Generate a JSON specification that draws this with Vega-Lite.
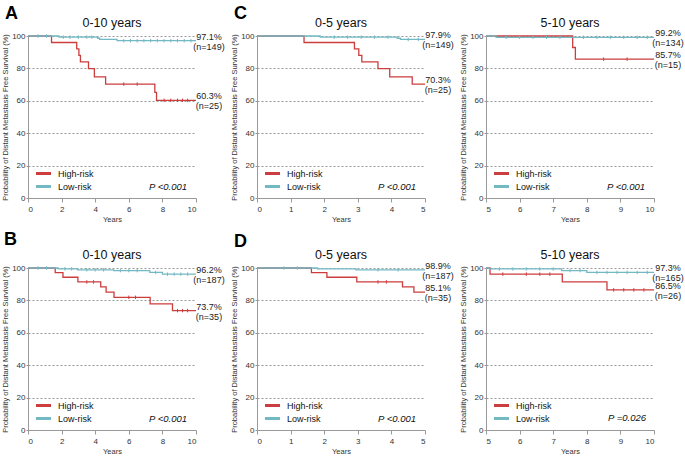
{
  "$schema": "https://vega.github.io/schema/vega-lite/v6.json",
  "padding": {"left": 1, "top": 5, "right": 0, "bottom": 0},
  "background": "white",
  "config": {
    "font": "Liberation Sans",
    "view": {"stroke": null},
    "axis": {"labelFontSize": 8, "titleFontSize": 7.5, "titleFontWeight": "normal", "labelColor": "#333", "titleColor": "#333", "domainColor": "#999", "tickColor": "#999", "gridDash": [2, 2], "gridColor": "#999", "tickCount": 12, "labelOverlap": false},
    "axisX": {"grid": false, "tickSize": 4, "labelPadding": 3, "titlePadding": 2, "format": "d"},
    "axisY": {"grid": true, "tickSize": 2, "labelPadding": 1, "titlePadding": 2},
    "legend": {"orient": "bottom-left", "offset": 5, "title": null, "symbolType": "M-1.5,0L1.5,0", "symbolStrokeWidth": 3, "symbolSize": 100, "symbolOffset": 4, "labelFontSize": 9, "labelColor": "#111", "rowPadding": -1, "labelOffset": 8}
  },
  "resolve": {"scale": {"color": "independent"}, "legend": {"color": "independent"}},
  "datasets": {
    "curves": [
      {"panel": "A", "group": "High-risk", "t": 0, "s": 100},
      {"panel": "A", "group": "High-risk", "t": 1.4, "s": 96},
      {"panel": "A", "group": "High-risk", "t": 2.9, "s": 92},
      {"panel": "A", "group": "High-risk", "t": 3.03, "s": 88},
      {"panel": "A", "group": "High-risk", "t": 3.12, "s": 84},
      {"panel": "A", "group": "High-risk", "t": 3.6, "s": 79.8},
      {"panel": "A", "group": "High-risk", "t": 3.95, "s": 74.8},
      {"panel": "A", "group": "High-risk", "t": 4.62, "s": 70.3},
      {"panel": "A", "group": "High-risk", "t": 7.55, "s": 65.2},
      {"panel": "A", "group": "High-risk", "t": 7.65, "s": 60.3},
      {"panel": "A", "group": "High-risk", "t": 10, "s": 60.3},
      {"panel": "A", "group": "Low-risk", "t": 0, "s": 100},
      {"panel": "A", "group": "Low-risk", "t": 1.85, "s": 99.3},
      {"panel": "A", "group": "Low-risk", "t": 4.15, "s": 98.6},
      {"panel": "A", "group": "Low-risk", "t": 4.27, "s": 97.9},
      {"panel": "A", "group": "Low-risk", "t": 5.3, "s": 97.1},
      {"panel": "A", "group": "Low-risk", "t": 10, "s": 97.1},
      {"panel": "C1", "group": "High-risk", "t": 0, "s": 100},
      {"panel": "C1", "group": "High-risk", "t": 1.4, "s": 96},
      {"panel": "C1", "group": "High-risk", "t": 2.9, "s": 92},
      {"panel": "C1", "group": "High-risk", "t": 3.03, "s": 88},
      {"panel": "C1", "group": "High-risk", "t": 3.12, "s": 84},
      {"panel": "C1", "group": "High-risk", "t": 3.6, "s": 79.8},
      {"panel": "C1", "group": "High-risk", "t": 3.95, "s": 74.8},
      {"panel": "C1", "group": "High-risk", "t": 4.62, "s": 70.3},
      {"panel": "C1", "group": "High-risk", "t": 5, "s": 70.3},
      {"panel": "C1", "group": "Low-risk", "t": 0, "s": 100},
      {"panel": "C1", "group": "Low-risk", "t": 1.88, "s": 99.3},
      {"panel": "C1", "group": "Low-risk", "t": 4.17, "s": 98.6},
      {"panel": "C1", "group": "Low-risk", "t": 4.27, "s": 97.9},
      {"panel": "C1", "group": "Low-risk", "t": 5, "s": 97.9},
      {"panel": "C2", "group": "High-risk", "t": 5, "s": 100},
      {"panel": "C2", "group": "High-risk", "t": 7.58, "s": 92.9},
      {"panel": "C2", "group": "High-risk", "t": 7.66, "s": 85.7},
      {"panel": "C2", "group": "High-risk", "t": 10, "s": 85.7},
      {"panel": "C2", "group": "Low-risk", "t": 5, "s": 100},
      {"panel": "C2", "group": "Low-risk", "t": 5.3, "s": 99.2},
      {"panel": "C2", "group": "Low-risk", "t": 10, "s": 99.2},
      {"panel": "B", "group": "High-risk", "t": 0, "s": 100},
      {"panel": "B", "group": "High-risk", "t": 1.62, "s": 97.1},
      {"panel": "B", "group": "High-risk", "t": 2.08, "s": 94.3},
      {"panel": "B", "group": "High-risk", "t": 2.97, "s": 91.4},
      {"panel": "B", "group": "High-risk", "t": 4.33, "s": 88.3},
      {"panel": "B", "group": "High-risk", "t": 4.65, "s": 85.1},
      {"panel": "B", "group": "High-risk", "t": 5.12, "s": 81.9},
      {"panel": "B", "group": "High-risk", "t": 7.27, "s": 77.8},
      {"panel": "B", "group": "High-risk", "t": 8.6, "s": 73.7},
      {"panel": "B", "group": "High-risk", "t": 10, "s": 73.7},
      {"panel": "B", "group": "Low-risk", "t": 0, "s": 100},
      {"panel": "B", "group": "Low-risk", "t": 1.8, "s": 99.5},
      {"panel": "B", "group": "Low-risk", "t": 2.95, "s": 98.9},
      {"panel": "B", "group": "Low-risk", "t": 5.1, "s": 98.4},
      {"panel": "B", "group": "Low-risk", "t": 7.25, "s": 97.3},
      {"panel": "B", "group": "Low-risk", "t": 8.0, "s": 96.2},
      {"panel": "B", "group": "Low-risk", "t": 10, "s": 96.2},
      {"panel": "D1", "group": "High-risk", "t": 0, "s": 100},
      {"panel": "D1", "group": "High-risk", "t": 1.62, "s": 97.1},
      {"panel": "D1", "group": "High-risk", "t": 2.08, "s": 94.3},
      {"panel": "D1", "group": "High-risk", "t": 2.97, "s": 91.4},
      {"panel": "D1", "group": "High-risk", "t": 4.33, "s": 88.3},
      {"panel": "D1", "group": "High-risk", "t": 4.67, "s": 85.1},
      {"panel": "D1", "group": "High-risk", "t": 5, "s": 85.1},
      {"panel": "D1", "group": "Low-risk", "t": 0, "s": 100},
      {"panel": "D1", "group": "Low-risk", "t": 1.8, "s": 99.5},
      {"panel": "D1", "group": "Low-risk", "t": 2.95, "s": 98.9},
      {"panel": "D1", "group": "Low-risk", "t": 5, "s": 98.9},
      {"panel": "D2", "group": "High-risk", "t": 5, "s": 100},
      {"panel": "D2", "group": "High-risk", "t": 5.12, "s": 96.2},
      {"panel": "D2", "group": "High-risk", "t": 7.27, "s": 91.4},
      {"panel": "D2", "group": "High-risk", "t": 8.6, "s": 86.5},
      {"panel": "D2", "group": "High-risk", "t": 10, "s": 86.5},
      {"panel": "D2", "group": "Low-risk", "t": 5, "s": 100},
      {"panel": "D2", "group": "Low-risk", "t": 5.1, "s": 99.4},
      {"panel": "D2", "group": "Low-risk", "t": 7.25, "s": 98.4},
      {"panel": "D2", "group": "Low-risk", "t": 8.0, "s": 97.3},
      {"panel": "D2", "group": "Low-risk", "t": 10, "s": 97.3}
    ],
    "censor": [
      {"panel": "A", "group": "High-risk", "t": 5.7, "s": 70.3},
      {"panel": "A", "group": "High-risk", "t": 6.5, "s": 70.3},
      {"panel": "A", "group": "High-risk", "t": 8.1, "s": 60.3},
      {"panel": "A", "group": "High-risk", "t": 8.5, "s": 60.3},
      {"panel": "A", "group": "High-risk", "t": 8.9, "s": 60.3},
      {"panel": "A", "group": "High-risk", "t": 9.2, "s": 60.3},
      {"panel": "A", "group": "High-risk", "t": 9.5, "s": 60.3},
      {"panel": "A", "group": "Low-risk", "t": 0.6, "s": 100},
      {"panel": "A", "group": "Low-risk", "t": 1.1, "s": 100},
      {"panel": "A", "group": "Low-risk", "t": 2.1, "s": 99.3},
      {"panel": "A", "group": "Low-risk", "t": 2.5, "s": 99.3},
      {"panel": "A", "group": "Low-risk", "t": 3.0, "s": 99.3},
      {"panel": "A", "group": "Low-risk", "t": 3.5, "s": 99.3},
      {"panel": "A", "group": "Low-risk", "t": 3.8, "s": 99.3},
      {"panel": "A", "group": "Low-risk", "t": 5.7, "s": 97.1},
      {"panel": "A", "group": "Low-risk", "t": 6.1, "s": 97.1},
      {"panel": "A", "group": "Low-risk", "t": 6.5, "s": 97.1},
      {"panel": "A", "group": "Low-risk", "t": 6.9, "s": 97.1},
      {"panel": "A", "group": "Low-risk", "t": 7.3, "s": 97.1},
      {"panel": "A", "group": "Low-risk", "t": 7.7, "s": 97.1},
      {"panel": "A", "group": "Low-risk", "t": 8.1, "s": 97.1},
      {"panel": "A", "group": "Low-risk", "t": 8.5, "s": 97.1},
      {"panel": "A", "group": "Low-risk", "t": 8.9, "s": 97.1},
      {"panel": "A", "group": "Low-risk", "t": 9.3, "s": 97.1},
      {"panel": "A", "group": "Low-risk", "t": 9.7, "s": 97.1},
      {"panel": "C1", "group": "Low-risk", "t": 2.3, "s": 99.3},
      {"panel": "C1", "group": "Low-risk", "t": 2.7, "s": 99.3},
      {"panel": "C1", "group": "Low-risk", "t": 3.1, "s": 99.3},
      {"panel": "C1", "group": "Low-risk", "t": 3.5, "s": 99.3},
      {"panel": "C1", "group": "Low-risk", "t": 3.9, "s": 99.3},
      {"panel": "C1", "group": "Low-risk", "t": 4.5, "s": 97.9},
      {"panel": "C1", "group": "Low-risk", "t": 4.8, "s": 97.9},
      {"panel": "C2", "group": "High-risk", "t": 8.5, "s": 85.7},
      {"panel": "C2", "group": "High-risk", "t": 9.2, "s": 85.7},
      {"panel": "C2", "group": "Low-risk", "t": 5.6, "s": 99.2},
      {"panel": "C2", "group": "Low-risk", "t": 6.0, "s": 99.2},
      {"panel": "C2", "group": "Low-risk", "t": 6.4, "s": 99.2},
      {"panel": "C2", "group": "Low-risk", "t": 6.8, "s": 99.2},
      {"panel": "C2", "group": "Low-risk", "t": 7.2, "s": 99.2},
      {"panel": "C2", "group": "Low-risk", "t": 7.9, "s": 99.2},
      {"panel": "C2", "group": "Low-risk", "t": 8.3, "s": 99.2},
      {"panel": "C2", "group": "Low-risk", "t": 8.7, "s": 99.2},
      {"panel": "C2", "group": "Low-risk", "t": 9.1, "s": 99.2},
      {"panel": "C2", "group": "Low-risk", "t": 9.5, "s": 99.2},
      {"panel": "C2", "group": "Low-risk", "t": 9.8, "s": 99.2},
      {"panel": "B", "group": "High-risk", "t": 3.5, "s": 91.4},
      {"panel": "B", "group": "High-risk", "t": 3.9, "s": 91.4},
      {"panel": "B", "group": "High-risk", "t": 6.0, "s": 81.9},
      {"panel": "B", "group": "High-risk", "t": 6.4, "s": 81.9},
      {"panel": "B", "group": "High-risk", "t": 8.9, "s": 73.7},
      {"panel": "B", "group": "High-risk", "t": 9.2, "s": 73.7},
      {"panel": "B", "group": "High-risk", "t": 9.5, "s": 73.7},
      {"panel": "B", "group": "Low-risk", "t": 0.6, "s": 100},
      {"panel": "B", "group": "Low-risk", "t": 1.1, "s": 100},
      {"panel": "B", "group": "Low-risk", "t": 2.2, "s": 99.5},
      {"panel": "B", "group": "Low-risk", "t": 2.6, "s": 99.5},
      {"panel": "B", "group": "Low-risk", "t": 3.5, "s": 98.9},
      {"panel": "B", "group": "Low-risk", "t": 4.0, "s": 98.9},
      {"panel": "B", "group": "Low-risk", "t": 4.5, "s": 98.9},
      {"panel": "B", "group": "Low-risk", "t": 5.5, "s": 98.4},
      {"panel": "B", "group": "Low-risk", "t": 6.0, "s": 98.4},
      {"panel": "B", "group": "Low-risk", "t": 6.5, "s": 98.4},
      {"panel": "B", "group": "Low-risk", "t": 7.6, "s": 97.3},
      {"panel": "B", "group": "Low-risk", "t": 8.3, "s": 96.2},
      {"panel": "B", "group": "Low-risk", "t": 8.7, "s": 96.2},
      {"panel": "B", "group": "Low-risk", "t": 9.1, "s": 96.2},
      {"panel": "B", "group": "Low-risk", "t": 9.5, "s": 96.2},
      {"panel": "D1", "group": "High-risk", "t": 3.6, "s": 91.4},
      {"panel": "D1", "group": "High-risk", "t": 3.85, "s": 91.4},
      {"panel": "D1", "group": "Low-risk", "t": 0.8, "s": 100},
      {"panel": "D1", "group": "Low-risk", "t": 1.2, "s": 100},
      {"panel": "D1", "group": "Low-risk", "t": 3.6, "s": 98.9},
      {"panel": "D1", "group": "Low-risk", "t": 4.2, "s": 98.9},
      {"panel": "D2", "group": "High-risk", "t": 5.5, "s": 96.2},
      {"panel": "D2", "group": "High-risk", "t": 6.2, "s": 96.2},
      {"panel": "D2", "group": "High-risk", "t": 6.6, "s": 96.2},
      {"panel": "D2", "group": "High-risk", "t": 6.9, "s": 96.2},
      {"panel": "D2", "group": "High-risk", "t": 8.8, "s": 86.5},
      {"panel": "D2", "group": "High-risk", "t": 9.1, "s": 86.5},
      {"panel": "D2", "group": "High-risk", "t": 9.4, "s": 86.5},
      {"panel": "D2", "group": "High-risk", "t": 9.7, "s": 86.5},
      {"panel": "D2", "group": "Low-risk", "t": 5.4, "s": 99.4},
      {"panel": "D2", "group": "Low-risk", "t": 5.8, "s": 99.4},
      {"panel": "D2", "group": "Low-risk", "t": 6.2, "s": 99.4},
      {"panel": "D2", "group": "Low-risk", "t": 6.6, "s": 99.4},
      {"panel": "D2", "group": "Low-risk", "t": 7.0, "s": 99.4},
      {"panel": "D2", "group": "Low-risk", "t": 7.5, "s": 98.4},
      {"panel": "D2", "group": "Low-risk", "t": 7.8, "s": 98.4},
      {"panel": "D2", "group": "Low-risk", "t": 8.3, "s": 97.3},
      {"panel": "D2", "group": "Low-risk", "t": 8.6, "s": 97.3},
      {"panel": "D2", "group": "Low-risk", "t": 8.9, "s": 97.3},
      {"panel": "D2", "group": "Low-risk", "t": 9.2, "s": 97.3},
      {"panel": "D2", "group": "Low-risk", "t": 9.5, "s": 97.3},
      {"panel": "D2", "group": "Low-risk", "t": 9.8, "s": 97.3}
    ],
    "ends": [
      {"panel": "A", "t": 10, "s": 97.1, "pct": "97.1%", "n": "(n=149)"},
      {"panel": "A", "t": 10, "s": 60.3, "pct": "60.3%", "n": "(n=25)"},
      {"panel": "C1", "t": 5, "s": 97.9, "pct": "97.9%", "n": "(n=149)"},
      {"panel": "C1", "t": 5, "s": 70.3, "pct": "70.3%", "n": "(n=25)"},
      {"panel": "C2", "t": 10, "s": 99.2, "pct": "99.2%", "n": "(n=134)"},
      {"panel": "C2", "t": 10, "s": 85.7, "pct": "85.7%", "n": "(n=15)"},
      {"panel": "B", "t": 10, "s": 96.2, "pct": "96.2%", "n": "(n=187)"},
      {"panel": "B", "t": 10, "s": 73.7, "pct": "73.7%", "n": "(n=35)"},
      {"panel": "D1", "t": 5, "s": 98.9, "pct": "98.9%", "n": "(n=187)"},
      {"panel": "D1", "t": 5, "s": 85.1, "pct": "85.1%", "n": "(n=35)"},
      {"panel": "D2", "t": 10, "s": 97.3, "pct": "97.3%", "n": "(n=165)"},
      {"panel": "D2", "t": 10, "s": 86.5, "pct": "86.5%", "n": "(n=26)"}
    ],
    "notes": [
      {"panel": "A", "letter": "A", "title": "0-10 years", "p": "P <0.001"},
      {"panel": "C1", "letter": "C", "title": "0-5 years", "p": "P <0.001"},
      {"panel": "C2", "letter": "", "title": "5-10 years", "p": "P <0.001"},
      {"panel": "B", "letter": "B", "title": "0-10 years", "p": "P <0.001"},
      {"panel": "D1", "letter": "D", "title": "0-5 years", "p": "P <0.001"},
      {"panel": "D2", "letter": "", "title": "5-10 years", "p": "P =0.026"}
    ]
  },
  "columns": 3,
  "spacing": {"row": 70, "column": 61},
  "bounds": "flush",
  "concat": [
    {
      "width": 168, "height": 162,
      "layer": [
        {"data": {"name": "curves"}, "transform": [{"filter": "datum.panel === 'A'"}],
         "mark": {"type": "line", "interpolate": "step-after", "strokeWidth": 1.3},
         "encoding": {
           "x": {"field": "t", "type": "quantitative", "scale": {"domain": [0, 10], "nice": false}, "axis": {"values": [0, 2, 4, 6, 8, 10], "title": "Years"}},
           "y": {"field": "s", "type": "quantitative", "scale": {"domain": [0, 100], "nice": false}, "axis": {"values": [0, 20, 40, 60, 80, 100], "title": "Probability of Distant Metastasis Free Survival (%)"}},
           "color": {"field": "group", "type": "nominal", "scale": {"domain": ["High-risk", "Low-risk"], "range": ["#cc3d3d", "#72b9c3"]}, "legend": {"orient": "bottom-left"}}}},
        {"data": {"name": "censor"}, "transform": [{"filter": "datum.panel === 'A'"}],
         "mark": {"type": "point", "shape": "M0,-1L0,1", "size": 12, "strokeWidth": 1, "filled": false, "opacity": 1},
         "encoding": {"x": {"field": "t", "type": "quantitative"}, "y": {"field": "s", "type": "quantitative"}, "color": {"field": "group", "type": "nominal", "legend": null}}},
        {"data": {"name": "ends"}, "transform": [{"filter": "datum.panel === 'A'"}],
         "mark": {"type": "text", "align": "center", "dx": 13, "dy": -4, "fontSize": 9, "color": "#222"},
         "encoding": {"x": {"field": "t", "type": "quantitative"}, "y": {"field": "s", "type": "quantitative"}, "text": {"field": "pct"}}},
        {"data": {"name": "ends"}, "transform": [{"filter": "datum.panel === 'A'"}],
         "mark": {"type": "text", "align": "center", "dx": 13, "dy": 6, "fontSize": 9, "color": "#222"},
         "encoding": {"x": {"field": "t", "type": "quantitative"}, "y": {"field": "s", "type": "quantitative"}, "text": {"field": "n"}}},
        {"data": {"name": "notes"}, "transform": [{"filter": "datum.panel === 'A'"}],
         "mark": {"type": "text", "align": "right", "baseline": "alphabetic", "dx": -9, "dy": -8, "fontSize": 9.5, "fontStyle": "italic", "color": "#111"},
         "encoding": {"x": {"datum": 10}, "y": {"datum": 0}, "text": {"field": "p"}}},
        {"data": {"name": "notes"}, "transform": [{"filter": "datum.panel === 'A'"}],
         "mark": {"type": "text", "align": "center", "baseline": "alphabetic", "dy": -9, "fontSize": 12.5, "color": "#111"},
         "encoding": {"x": {"datum": 5}, "y": {"datum": 100}, "text": {"field": "title"}}},
        {"data": {"name": "notes"}, "transform": [{"filter": "datum.panel === 'A'"}],
         "mark": {"type": "text", "align": "left", "baseline": "alphabetic", "dx": -23, "dy": -17, "fontSize": 18, "fontWeight": "bold", "color": "#000"},
         "encoding": {"x": {"datum": 0}, "y": {"datum": 100}, "text": {"field": "letter"}}}
      ]
    },
    {
      "width": 168, "height": 162,
      "layer": [
        {"data": {"name": "curves"}, "transform": [{"filter": "datum.panel === 'C1'"}],
         "mark": {"type": "line", "interpolate": "step-after", "strokeWidth": 1.3},
         "encoding": {
           "x": {"field": "t", "type": "quantitative", "scale": {"domain": [0, 5], "nice": false}, "axis": {"values": [0, 1, 2, 3, 4, 5], "title": "Years"}},
           "y": {"field": "s", "type": "quantitative", "scale": {"domain": [0, 100], "nice": false}, "axis": {"values": [0, 20, 40, 60, 80, 100], "title": "Probability of Distant Metastasis Free Survival (%)"}},
           "color": {"field": "group", "type": "nominal", "scale": {"domain": ["High-risk", "Low-risk"], "range": ["#cc3d3d", "#72b9c3"]}, "legend": {"orient": "bottom-left"}}}},
        {"data": {"name": "censor"}, "transform": [{"filter": "datum.panel === 'C1'"}],
         "mark": {"type": "point", "shape": "M0,-1L0,1", "size": 12, "strokeWidth": 1, "filled": false, "opacity": 1},
         "encoding": {"x": {"field": "t", "type": "quantitative"}, "y": {"field": "s", "type": "quantitative"}, "color": {"field": "group", "type": "nominal", "legend": null}}},
        {"data": {"name": "ends"}, "transform": [{"filter": "datum.panel === 'C1'"}],
         "mark": {"type": "text", "align": "center", "dx": 13, "dy": -4, "fontSize": 9, "color": "#222"},
         "encoding": {"x": {"field": "t", "type": "quantitative"}, "y": {"field": "s", "type": "quantitative"}, "text": {"field": "pct"}}},
        {"data": {"name": "ends"}, "transform": [{"filter": "datum.panel === 'C1'"}],
         "mark": {"type": "text", "align": "center", "dx": 13, "dy": 6, "fontSize": 9, "color": "#222"},
         "encoding": {"x": {"field": "t", "type": "quantitative"}, "y": {"field": "s", "type": "quantitative"}, "text": {"field": "n"}}},
        {"data": {"name": "notes"}, "transform": [{"filter": "datum.panel === 'C1'"}],
         "mark": {"type": "text", "align": "right", "baseline": "alphabetic", "dx": -9, "dy": -8, "fontSize": 9.5, "fontStyle": "italic", "color": "#111"},
         "encoding": {"x": {"datum": 5}, "y": {"datum": 0}, "text": {"field": "p"}}},
        {"data": {"name": "notes"}, "transform": [{"filter": "datum.panel === 'C1'"}],
         "mark": {"type": "text", "align": "center", "baseline": "alphabetic", "dy": -9, "fontSize": 12.5, "color": "#111"},
         "encoding": {"x": {"datum": 2.5}, "y": {"datum": 100}, "text": {"field": "title"}}},
        {"data": {"name": "notes"}, "transform": [{"filter": "datum.panel === 'C1'"}],
         "mark": {"type": "text", "align": "left", "baseline": "alphabetic", "dx": -23, "dy": -17, "fontSize": 18, "fontWeight": "bold", "color": "#000"},
         "encoding": {"x": {"datum": 0}, "y": {"datum": 100}, "text": {"field": "letter"}}}
      ]
    },
    {
      "width": 168, "height": 162,
      "layer": [
        {"data": {"name": "curves"}, "transform": [{"filter": "datum.panel === 'C2'"}],
         "mark": {"type": "line", "interpolate": "step-after", "strokeWidth": 1.3},
         "encoding": {
           "x": {"field": "t", "type": "quantitative", "scale": {"domain": [5, 10], "nice": false, "zero": false}, "axis": {"values": [5, 6, 7, 8, 9, 10], "title": "Years"}},
           "y": {"field": "s", "type": "quantitative", "scale": {"domain": [0, 100], "nice": false}, "axis": {"values": [0, 20, 40, 60, 80, 100], "title": "Probability of Distant Metastasis Free Survival (%)"}},
           "color": {"field": "group", "type": "nominal", "scale": {"domain": ["High-risk", "Low-risk"], "range": ["#cc3d3d", "#72b9c3"]}, "legend": {"orient": "bottom-left"}}}},
        {"data": {"name": "censor"}, "transform": [{"filter": "datum.panel === 'C2'"}],
         "mark": {"type": "point", "shape": "M0,-1L0,1", "size": 12, "strokeWidth": 1, "filled": false, "opacity": 1},
         "encoding": {"x": {"field": "t", "type": "quantitative"}, "y": {"field": "s", "type": "quantitative"}, "color": {"field": "group", "type": "nominal", "legend": null}}},
        {"data": {"name": "ends"}, "transform": [{"filter": "datum.panel === 'C2'"}],
         "mark": {"type": "text", "align": "center", "dx": 14, "dy": -4, "fontSize": 9, "color": "#222"},
         "encoding": {"x": {"field": "t", "type": "quantitative"}, "y": {"field": "s", "type": "quantitative"}, "text": {"field": "pct"}}},
        {"data": {"name": "ends"}, "transform": [{"filter": "datum.panel === 'C2'"}],
         "mark": {"type": "text", "align": "center", "dx": 14, "dy": 6, "fontSize": 9, "color": "#222"},
         "encoding": {"x": {"field": "t", "type": "quantitative"}, "y": {"field": "s", "type": "quantitative"}, "text": {"field": "n"}}},
        {"data": {"name": "notes"}, "transform": [{"filter": "datum.panel === 'C2'"}],
         "mark": {"type": "text", "align": "right", "baseline": "alphabetic", "dx": -9, "dy": -8, "fontSize": 9.5, "fontStyle": "italic", "color": "#111"},
         "encoding": {"x": {"datum": 10}, "y": {"datum": 0}, "text": {"field": "p"}}},
        {"data": {"name": "notes"}, "transform": [{"filter": "datum.panel === 'C2'"}],
         "mark": {"type": "text", "align": "center", "baseline": "alphabetic", "dy": -9, "fontSize": 12.5, "color": "#111"},
         "encoding": {"x": {"datum": 7.5}, "y": {"datum": 100}, "text": {"field": "title"}}}
      ]
    },
    {
      "width": 168, "height": 162,
      "layer": [
        {"data": {"name": "curves"}, "transform": [{"filter": "datum.panel === 'B'"}],
         "mark": {"type": "line", "interpolate": "step-after", "strokeWidth": 1.3},
         "encoding": {
           "x": {"field": "t", "type": "quantitative", "scale": {"domain": [0, 10], "nice": false}, "axis": {"values": [0, 2, 4, 6, 8, 10], "title": "Years"}},
           "y": {"field": "s", "type": "quantitative", "scale": {"domain": [0, 100], "nice": false}, "axis": {"values": [0, 20, 40, 60, 80, 100], "title": "Probability of Distant Metastasis Free Survival (%)"}},
           "color": {"field": "group", "type": "nominal", "scale": {"domain": ["High-risk", "Low-risk"], "range": ["#cc3d3d", "#72b9c3"]}, "legend": {"orient": "bottom-left"}}}},
        {"data": {"name": "censor"}, "transform": [{"filter": "datum.panel === 'B'"}],
         "mark": {"type": "point", "shape": "M0,-1L0,1", "size": 12, "strokeWidth": 1, "filled": false, "opacity": 1},
         "encoding": {"x": {"field": "t", "type": "quantitative"}, "y": {"field": "s", "type": "quantitative"}, "color": {"field": "group", "type": "nominal", "legend": null}}},
        {"data": {"name": "ends"}, "transform": [{"filter": "datum.panel === 'B'"}],
         "mark": {"type": "text", "align": "center", "dx": 13, "dy": -4, "fontSize": 9, "color": "#222"},
         "encoding": {"x": {"field": "t", "type": "quantitative"}, "y": {"field": "s", "type": "quantitative"}, "text": {"field": "pct"}}},
        {"data": {"name": "ends"}, "transform": [{"filter": "datum.panel === 'B'"}],
         "mark": {"type": "text", "align": "center", "dx": 13, "dy": 6, "fontSize": 9, "color": "#222"},
         "encoding": {"x": {"field": "t", "type": "quantitative"}, "y": {"field": "s", "type": "quantitative"}, "text": {"field": "n"}}},
        {"data": {"name": "notes"}, "transform": [{"filter": "datum.panel === 'B'"}],
         "mark": {"type": "text", "align": "right", "baseline": "alphabetic", "dx": -9, "dy": -8, "fontSize": 9.5, "fontStyle": "italic", "color": "#111"},
         "encoding": {"x": {"datum": 10}, "y": {"datum": 0}, "text": {"field": "p"}}},
        {"data": {"name": "notes"}, "transform": [{"filter": "datum.panel === 'B'"}],
         "mark": {"type": "text", "align": "center", "baseline": "alphabetic", "dy": -9, "fontSize": 12.5, "color": "#111"},
         "encoding": {"x": {"datum": 5}, "y": {"datum": 100}, "text": {"field": "title"}}},
        {"data": {"name": "notes"}, "transform": [{"filter": "datum.panel === 'B'"}],
         "mark": {"type": "text", "align": "left", "baseline": "alphabetic", "dx": -24, "dy": -23, "fontSize": 18, "fontWeight": "bold", "color": "#000"},
         "encoding": {"x": {"datum": 0}, "y": {"datum": 100}, "text": {"field": "letter"}}}
      ]
    },
    {
      "width": 168, "height": 162,
      "layer": [
        {"data": {"name": "curves"}, "transform": [{"filter": "datum.panel === 'D1'"}],
         "mark": {"type": "line", "interpolate": "step-after", "strokeWidth": 1.3},
         "encoding": {
           "x": {"field": "t", "type": "quantitative", "scale": {"domain": [0, 5], "nice": false}, "axis": {"values": [0, 1, 2, 3, 4, 5], "title": "Years"}},
           "y": {"field": "s", "type": "quantitative", "scale": {"domain": [0, 100], "nice": false}, "axis": {"values": [0, 20, 40, 60, 80, 100], "title": "Probability of Distant Metastasis Free Survival (%)"}},
           "color": {"field": "group", "type": "nominal", "scale": {"domain": ["High-risk", "Low-risk"], "range": ["#cc3d3d", "#72b9c3"]}, "legend": {"orient": "bottom-left"}}}},
        {"data": {"name": "censor"}, "transform": [{"filter": "datum.panel === 'D1'"}],
         "mark": {"type": "point", "shape": "M0,-1L0,1", "size": 12, "strokeWidth": 1, "filled": false, "opacity": 1},
         "encoding": {"x": {"field": "t", "type": "quantitative"}, "y": {"field": "s", "type": "quantitative"}, "color": {"field": "group", "type": "nominal", "legend": null}}},
        {"data": {"name": "ends"}, "transform": [{"filter": "datum.panel === 'D1'"}],
         "mark": {"type": "text", "align": "center", "dx": 13, "dy": -4, "fontSize": 9, "color": "#222"},
         "encoding": {"x": {"field": "t", "type": "quantitative"}, "y": {"field": "s", "type": "quantitative"}, "text": {"field": "pct"}}},
        {"data": {"name": "ends"}, "transform": [{"filter": "datum.panel === 'D1'"}],
         "mark": {"type": "text", "align": "center", "dx": 13, "dy": 6, "fontSize": 9, "color": "#222"},
         "encoding": {"x": {"field": "t", "type": "quantitative"}, "y": {"field": "s", "type": "quantitative"}, "text": {"field": "n"}}},
        {"data": {"name": "notes"}, "transform": [{"filter": "datum.panel === 'D1'"}],
         "mark": {"type": "text", "align": "right", "baseline": "alphabetic", "dx": -9, "dy": -8, "fontSize": 9.5, "fontStyle": "italic", "color": "#111"},
         "encoding": {"x": {"datum": 5}, "y": {"datum": 0}, "text": {"field": "p"}}},
        {"data": {"name": "notes"}, "transform": [{"filter": "datum.panel === 'D1'"}],
         "mark": {"type": "text", "align": "center", "baseline": "alphabetic", "dy": -9, "fontSize": 12.5, "color": "#111"},
         "encoding": {"x": {"datum": 2.5}, "y": {"datum": 100}, "text": {"field": "title"}}},
        {"data": {"name": "notes"}, "transform": [{"filter": "datum.panel === 'D1'"}],
         "mark": {"type": "text", "align": "left", "baseline": "alphabetic", "dx": -23, "dy": -21, "fontSize": 18, "fontWeight": "bold", "color": "#000"},
         "encoding": {"x": {"datum": 0}, "y": {"datum": 100}, "text": {"field": "letter"}}}
      ]
    },
    {
      "width": 168, "height": 162,
      "layer": [
        {"data": {"name": "curves"}, "transform": [{"filter": "datum.panel === 'D2'"}],
         "mark": {"type": "line", "interpolate": "step-after", "strokeWidth": 1.3},
         "encoding": {
           "x": {"field": "t", "type": "quantitative", "scale": {"domain": [5, 10], "nice": false, "zero": false}, "axis": {"values": [5, 6, 7, 8, 9, 10], "title": "Years"}},
           "y": {"field": "s", "type": "quantitative", "scale": {"domain": [0, 100], "nice": false}, "axis": {"values": [0, 20, 40, 60, 80, 100], "title": "Probability of Distant Metastasis Free Survival (%)"}},
           "color": {"field": "group", "type": "nominal", "scale": {"domain": ["High-risk", "Low-risk"], "range": ["#cc3d3d", "#72b9c3"]}, "legend": {"orient": "bottom-left"}}}},
        {"data": {"name": "censor"}, "transform": [{"filter": "datum.panel === 'D2'"}],
         "mark": {"type": "point", "shape": "M0,-1L0,1", "size": 12, "strokeWidth": 1, "filled": false, "opacity": 1},
         "encoding": {"x": {"field": "t", "type": "quantitative"}, "y": {"field": "s", "type": "quantitative"}, "color": {"field": "group", "type": "nominal", "legend": null}}},
        {"data": {"name": "ends"}, "transform": [{"filter": "datum.panel === 'D2'"}],
         "mark": {"type": "text", "align": "center", "dx": 14, "dy": -4, "fontSize": 9, "color": "#222"},
         "encoding": {"x": {"field": "t", "type": "quantitative"}, "y": {"field": "s", "type": "quantitative"}, "text": {"field": "pct"}}},
        {"data": {"name": "ends"}, "transform": [{"filter": "datum.panel === 'D2'"}],
         "mark": {"type": "text", "align": "center", "dx": 14, "dy": 6, "fontSize": 9, "color": "#222"},
         "encoding": {"x": {"field": "t", "type": "quantitative"}, "y": {"field": "s", "type": "quantitative"}, "text": {"field": "n"}}},
        {"data": {"name": "notes"}, "transform": [{"filter": "datum.panel === 'D2'"}],
         "mark": {"type": "text", "align": "right", "baseline": "alphabetic", "dx": -8, "dy": -9, "fontSize": 9.5, "fontStyle": "italic", "color": "#111"},
         "encoding": {"x": {"datum": 10}, "y": {"datum": 0}, "text": {"field": "p"}}},
        {"data": {"name": "notes"}, "transform": [{"filter": "datum.panel === 'D2'"}],
         "mark": {"type": "text", "align": "center", "baseline": "alphabetic", "dy": -9, "fontSize": 12.5, "color": "#111"},
         "encoding": {"x": {"datum": 7.5}, "y": {"datum": 100}, "text": {"field": "title"}}}
      ]
    }
  ]
}
